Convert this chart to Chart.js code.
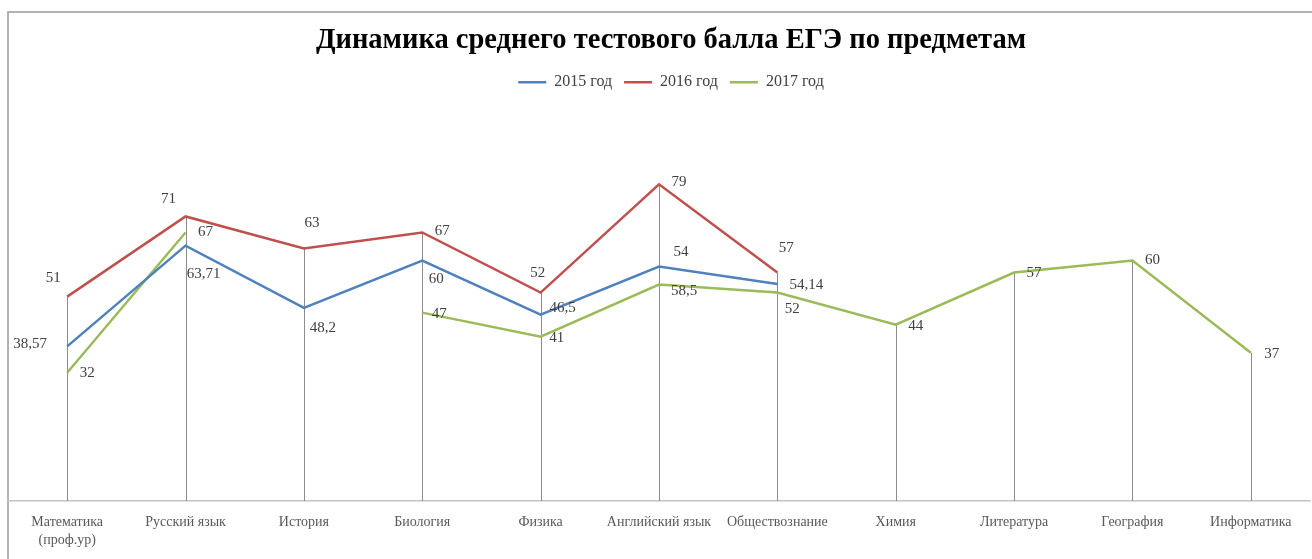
<!DOCTYPE html>
<html lang="ru">
<head>
<meta charset="utf-8">
<script src="https://cdn.jsdelivr.net/npm/chart.js@4"></script>
<style>
  html, body { margin: 0; padding: 0; background: #fff; }
  #wrap { width: 1312px; height: 559px; position: relative; }
</style>
</head>
<body>
<div id="wrap"><canvas id="chart"></canvas></div>
<script>
// --- data ---
const subjects = [['Математика', '(проф.ур)'], 'Русский язык', 'История', 'Биология', 'Физика',
    'Английский язык', 'Обществознание', 'Химия', 'Литература', 'География', 'Информатика'];
const seriesNames = ['2015 год', '2016 год', '2017 год'];
const scores2015 = [38.57, 63.71, 48.2, 60, 46.5, 58.5, 54.14, null, null, null, null];
const scores2016 = [51, 71, 63, 67, 52, 79, 57, null, null, null, null];
const scores2017 = [32, 67, null, 47, 41, 54, 52, 44, 57, 60, 37];

// label nudges (px from the point), hand placed like in the original
const labelShift = [
    [[-37, -2], [18, 28], [19, 20], [14, 19], [22, -7], [25, 25], [29, 1]],
    [[-14, -19], [-17, -17], [8, -25], [20, -1], [-3, -20], [20, -2], [9, -24]],
    [[20, 0], [20, 0], null, [17, 1], [16, 1], [22, -33], [15, 16], [20, 1], [20, 1], [20, 0], [21, 1]]
];

const FONT = "'Liberation Serif', 'DejaVu Serif', serif";

// outer frame of the chart object (it runs past the right/bottom edge)
const framePlugin = {
    id: 'frame',
    beforeDraw(chart) {
        const ctx = chart.ctx;
        ctx.save();
        ctx.strokeStyle = '#9a9a9a';
        ctx.lineWidth = 1.5;
        ctx.strokeRect(8, 12, 1400, 600);
        ctx.restore();
    }
};

// title + legend are centred on the whole (cropped) frame, a bit right of the plot
const headerShiftPlugin = {
    id: 'headerShift',
    afterLayout(chart) {
        [chart.titleBlock, chart.legend].forEach(b => {
            if (!b) return;
            b.left += 12;
            b.right += 12;
        });
    }
};

// grey drop lines from the highest point down to the axis
const dropLinesPlugin = {
    id: 'dropLines',
    beforeDatasetsDraw(chart) {
        const ctx = chart.ctx;
        const bottom = chart.chartArea.bottom;
        ctx.save();
        ctx.strokeStyle = '#8c8c8c';
        ctx.lineWidth = 1;
        subjects.forEach((s, i) => {
            let top = null, x = null;
            chart.data.datasets.forEach((ds, d) => {
                if (ds.data[i] == null) return;
                const pt = chart.getDatasetMeta(d).data[i];
                x = pt.x;
                if (top === null || pt.y < top) top = pt.y;
            });
            if (top === null) return;
            ctx.beginPath();
            ctx.moveTo(Math.round(x) + 0.5, top);
            ctx.lineTo(Math.round(x) + 0.5, bottom);
            ctx.stroke();
        });
        ctx.restore();
    }
};

// value labels
const valueLabelsPlugin = {
    id: 'valueLabels',
    afterDatasetsDraw(chart) {
        const ctx = chart.ctx;
        ctx.save();
        ctx.font = '15px ' + FONT;
        ctx.fillStyle = '#404040';
        ctx.textAlign = 'center';
        ctx.textBaseline = 'middle';
        chart.data.datasets.forEach((ds, d) => {
            const meta = chart.getDatasetMeta(d);
            ds.data.forEach((v, i) => {
                if (v == null) return;
                const pt = meta.data[i];
                const sh = (labelShift[d] && labelShift[d][i]) || [20, 0];
                ctx.fillText(String(v).replace('.', ','), pt.x + sh[0], pt.y + sh[1]);
            });
        });
        ctx.restore();
    }
};

const colors = ['#4f81bd', '#c0504d', '#9bbb59'];
const allScores = [scores2015, scores2016, scores2017];

new Chart(document.getElementById('chart'), {
    type: 'line',
    data: {
        labels: subjects,
        datasets: allScores.map((arr, i) => ({
            label: seriesNames[i],
            data: arr,
            borderColor: colors[i],
            backgroundColor: colors[i],
            borderWidth: 2.5,
            pointRadius: 0,
            pointHoverRadius: 0,
            pointStyle: 'line',
            tension: 0,
            spanGaps: false
        }))
    },
    options: {
        responsive: true,
        maintainAspectRatio: false,
        animation: false,
        layout: { padding: { left: 8, right: 2, top: 0, bottom: 8 } },
        scales: {
            x: {
                offset: true,
                grid: { display: false, drawTicks: false },
                border: { display: true, color: '#c4c4c4', width: 1.5 },
                afterFit(scale) { scale.height = 50; },
                ticks: {
                    padding: 12,
                    maxRotation: 0,
                    autoSkip: false,
                    color: '#595959',
                    font: { family: FONT, size: 14, lineHeight: 1.3 }
                }
            },
            y: {
                display: false,
                min: 0,
                max: 100
            }
        },
        plugins: {
            title: {
                display: true,
                text: 'Динамика среднего тестового балла ЕГЭ по предметам',
                color: '#000',
                font: { family: FONT, size: 28.5, weight: 'bold', lineHeight: 1.2 },
                padding: { top: 24, bottom: 4 }
            },
            legend: {
                display: true,
                labels: {
                    usePointStyle: true,
                    pointStyle: 'line',
                    pointStyleWidth: 28,
                    padding: 12,
                    color: '#404040',
                    font: { family: FONT, size: 16 }
                }
            },
            tooltip: { enabled: false }
        }
    },
    plugins: [framePlugin, headerShiftPlugin, dropLinesPlugin, valueLabelsPlugin]
});
</script>
</body>
</html>
